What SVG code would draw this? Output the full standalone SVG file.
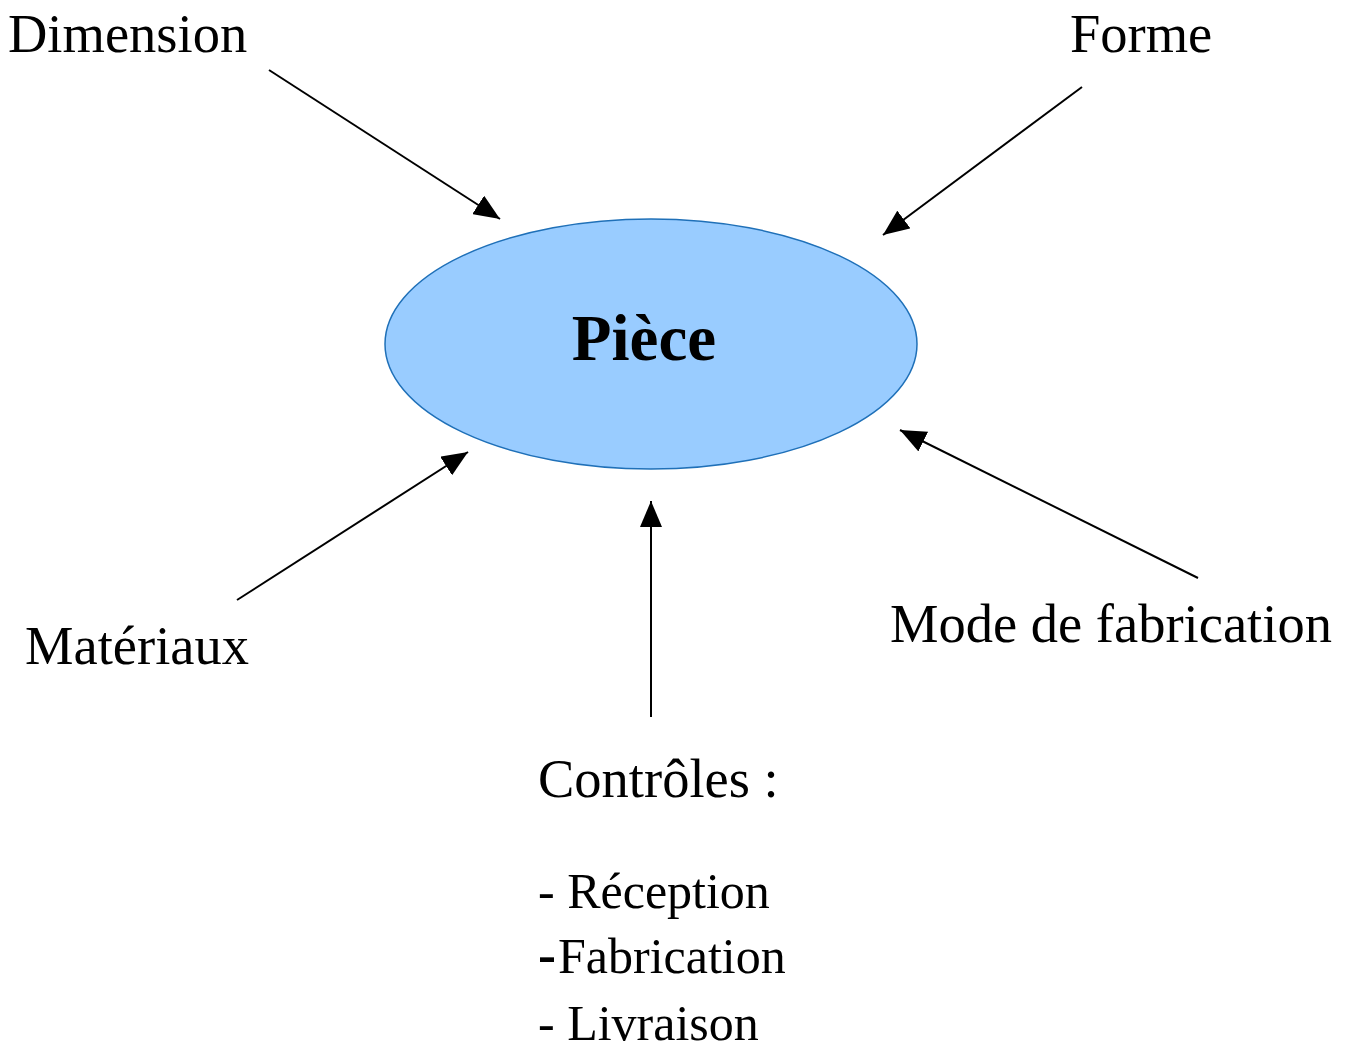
<svg xmlns="http://www.w3.org/2000/svg" width="1354" height="1044" viewBox="0 0 1354 1044">
<style>
.t{font-family:"Liberation Serif","Times New Roman",serif;font-size:54.5px;fill:#000}
.s{font-size:50px}
.c{stroke:#000;stroke-width:2;fill:none}
</style>
<defs>
<marker id="ah" markerUnits="userSpaceOnUse" markerWidth="26" markerHeight="22" viewBox="0 0 26 22" refX="26" refY="11" orient="auto">
<path d="M0,0 L26,11 L0,22 Z" fill="#000"/>
</marker>
</defs>
<rect width="1354" height="1044" fill="#fff"/>
<g id="piece">
<ellipse cx="651" cy="344" rx="266" ry="125" fill="#99CCFF" stroke="#1F70B8" stroke-width="1.5"/>
<text x="644" y="360" text-anchor="middle" class="t" style="font-size:65px;font-weight:bold">Pièce</text>
</g>
<g id="dimension"><text x="8" y="52" class="t">Dimension</text></g>
<g id="forme"><text x="1070" y="52" class="t">Forme</text></g>
<g id="materiaux"><text x="25" y="664" class="t">Matériaux</text></g>
<g id="mode"><text x="890" y="642" class="t">Mode de fabrication</text></g>
<g id="controles">
<text x="538" y="797" class="t">Contrôles :</text>
<text x="538" y="908" class="t s">- Réception</text>
<text x="538" y="973" class="t s"><tspan font-weight="bold" font-size="54">-</tspan><tspan dx="2">Fabrication</tspan></text>
<text x="538" y="1040" class="t s">- Livraison</text>
</g>
<g id="connectors">
<line class="c" x1="269" y1="70" x2="500" y2="219" marker-end="url(#ah)"/>
<line class="c" x1="1082" y1="87" x2="883" y2="235" marker-end="url(#ah)"/>
<line class="c" x1="237" y1="600" x2="468" y2="452" marker-end="url(#ah)"/>
<line class="c" x1="651" y1="717" x2="651" y2="501" marker-end="url(#ah)"/>
<line class="c" x1="1198" y1="578" x2="900" y2="430" marker-end="url(#ah)"/>
</g>
</svg>
